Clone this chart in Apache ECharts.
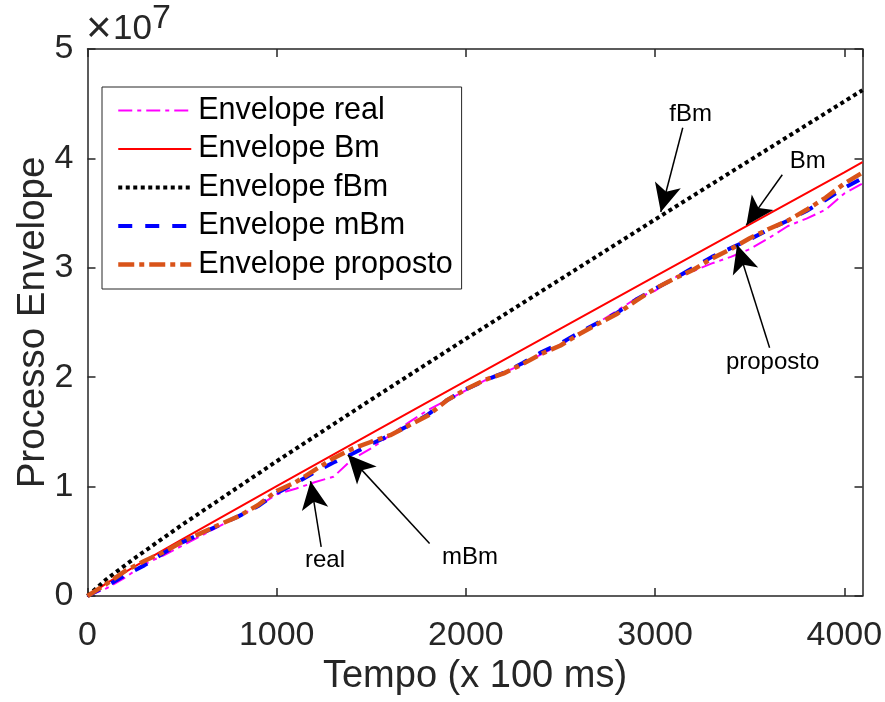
<!DOCTYPE html>
<html>
<head>
<meta charset="utf-8">
<script src="https://cdn.jsdelivr.net/npm/echarts@6/dist/echarts.min.js"></script>
<style>
  html, body { margin: 0; padding: 0; background: #fff; }
  #chart { width: 885px; height: 702px; }
</style>
</head>
<body>
<div id="chart"></div>
<script>
// Tempo (x 100 ms) sample points for the straight envelopes
const tempoRetas = [0, 100, 250, 500, 1000, 1500, 2000, 2500, 3000, 3500, 4000, 4096];
// Envelope Bm and Envelope fBm (x 10^7)
const envelopeBm  = [0, 0.116, 0.27, 0.517, 1.005, 1.487, 1.967, 2.445, 2.922, 3.398, 3.873, 3.965];
const envelopeFBm = [0, 0.153, 0.347, 0.651, 1.232, 1.796, 2.351, 2.896, 3.442, 3.982, 4.521, 4.624];

// Tempo (x 100 ms) sample points for the measured / modelled envelopes
const tempo = [0, 100, 200, 300, 400, 500, 600, 700, 800, 900,
  1000, 1100, 1200, 1300, 1400, 1500, 1600, 1700, 1800, 1900,
  2000, 2100, 2200, 2300, 2400, 2500, 2600, 2700, 2800, 2900,
  3000, 3100, 3200, 3300, 3400, 3500, 3600, 3700, 3800, 3900,
  4000, 4096];
// Envelope real (x 10^7)
const envelopeReal = [0, 0.07, 0.17, 0.29, 0.37, 0.46, 0.55, 0.64, 0.73, 0.82,
  0.93, 0.98, 1.04, 1.09, 1.25, 1.35, 1.47, 1.59, 1.70, 1.79,
  1.88, 1.97, 2.04, 2.12, 2.21, 2.30, 2.39, 2.50, 2.61, 2.72,
  2.79, 2.91, 2.97, 3.04, 3.10, 3.17, 3.27, 3.38, 3.45, 3.53,
  3.68, 3.77];
// Envelope mBm (x 10^7)
const envelopeMBm = [0, 0.09, 0.19, 0.28, 0.39, 0.49, 0.57, 0.65, 0.73, 0.82,
  0.94, 1.03, 1.13, 1.22, 1.30, 1.39, 1.47, 1.56, 1.66, 1.79,
  1.89, 1.97, 2.04, 2.13, 2.23, 2.31, 2.41, 2.50, 2.59, 2.71,
  2.81, 2.90, 3.00, 3.10, 3.18, 3.26, 3.35, 3.43, 3.52, 3.62,
  3.73, 3.82];
// Envelope proposto (x 10^7)
const envelopeProposto = [0, 0.11, 0.23, 0.32, 0.40, 0.495, 0.575, 0.655, 0.73, 0.83,
  0.96, 1.04, 1.15, 1.26, 1.345, 1.41, 1.47, 1.56, 1.65, 1.79,
  1.89, 1.975, 2.035, 2.12, 2.215, 2.29, 2.395, 2.49, 2.58, 2.70,
  2.81, 2.90, 2.98, 3.085, 3.17, 3.27, 3.355, 3.43, 3.53, 3.64,
  3.77, 3.87];

// Axis ticks
const xTicks = [0, 1000, 2000, 3000, 4000];
const yTicks = [0, 1, 2, 3, 4, 5];

// Callouts: label text, label anchor, arrow tail and arrow tip (data coordinates)
const calloutText = ['fBm', 'Bm', 'proposto', 'real', 'mBm'];
const calloutAt   = [[3188, 4.40], [3806, 3.97], [3621, 2.14], [1255, 0.33], [2021, 0.357]];
const calloutTail = [[3146, 4.28], [3672, 3.85], [3605, 2.27], [1235, 0.45], [1808, 0.48]];
const calloutTip  = [[3030, 3.51], [3482, 3.39], [3433, 3.21], [1179, 1.05], [1376, 1.29]];

const FONT = '"Liberation Sans", Arial, Helvetica, sans-serif';
const AXIS_COLOR = '#262626';

const zip = (xs, ys) => xs.map((x, i) => [x, ys[i]]);

const styles = {
  real:     { color: '#FF00FF', width: 2,   type: [14, 5, 4, 5] },
  bm:       { color: '#FF0000', width: 2,   type: 'solid' },
  fbm:      { color: '#000000', width: 4,   type: [4, 3.5] },
  mbm:      { color: '#0000FF', width: 4,   type: [14, 13] },
  proposto: { color: '#D95319', width: 4.5, type: [16, 5, 5, 5] }
};

function lineSeries(name, data, st) {
  return {
    type: 'line', name, data,
    symbol: 'none', showSymbol: false, smooth: false,
    color: st.color,
    lineStyle: { color: st.color, width: st.width, type: st.type },
    emphasis: { disabled: true },
    silent: true
  };
}

function legendItem(name, st) {
  return { name, lineStyle: { width: st.width }, itemStyle: { opacity: 0 } };
}

const chart = echarts.init(document.getElementById('chart'), null, { renderer: 'canvas' });

const xMin = 0, xMax = 4096, yMin = 0, yMax = 5;

const option = {
  animation: false,
  backgroundColor: '#ffffff',
  textStyle: { fontFamily: FONT },
  grid: { left: 87.5, right: 22.5, top: 49, bottom: 106, containLabel: false, outerBoundsMode: 'none' },
  xAxis: [{
    type: 'value', min: xMin, max: xMax, interval: 1000,
    name: 'Tempo (x 100 ms)', nameLocation: 'middle', nameGap: 62, nameMoveOverlap: false,
    nameTextStyle: { fontSize: 38, color: AXIS_COLOR, fontFamily: FONT },
    axisLine: { show: true, onZero: false, lineStyle: { color: AXIS_COLOR, width: 1.5 } },
    axisTick: { show: true, inside: true, length: 8, lineStyle: { color: AXIS_COLOR, width: 1.5 } },
    axisLabel: {
      fontSize: 34, color: AXIS_COLOR, margin: 23, fontFamily: FONT, showMaxLabel: false,
      formatter: v => (xTicks.indexOf(v) >= 0 ? String(v) : '')
    },
    splitLine: { show: false }
  }, {
    type: 'value', position: 'top', min: xMin, max: xMax, interval: 1000,
    axisLine: { show: true, onZero: false, lineStyle: { color: AXIS_COLOR, width: 1.5 } },
    axisTick: { show: true, inside: true, length: 8, lineStyle: { color: AXIS_COLOR, width: 1.5 } },
    axisLabel: { show: false },
    splitLine: { show: false }
  }],
  yAxis: [{
    type: 'value', min: yMin, max: yMax, interval: 1,
    name: 'Processo Envelope', nameLocation: 'middle', nameGap: 35, nameMoveOverlap: false,
    nameTextStyle: { fontSize: 38.5, color: AXIS_COLOR, fontFamily: FONT },
    axisLine: { show: true, onZero: false, lineStyle: { color: AXIS_COLOR, width: 1.5 } },
    axisTick: { show: true, inside: true, length: 8, lineStyle: { color: AXIS_COLOR, width: 1.5 } },
    axisLabel: {
      fontSize: 34, color: AXIS_COLOR, margin: 14, fontFamily: FONT,
      formatter: v => (yTicks.indexOf(v) >= 0 ? String(v) : '')
    },
    splitLine: { show: false }
  }, {
    type: 'value', position: 'right', min: yMin, max: yMax, interval: 1,
    axisLine: { show: true, onZero: false, lineStyle: { color: AXIS_COLOR, width: 1.5 } },
    axisTick: { show: true, inside: true, length: 8, lineStyle: { color: AXIS_COLOR, width: 1.5 } },
    axisLabel: { show: false },
    splitLine: { show: false }
  }],
  legend: {
    orient: 'vertical', left: 102, top: 87,
    padding: [8, 9, 9, 14],
    itemWidth: 73, itemHeight: 14, itemGap: 7.5,
    backgroundColor: '#ffffff', borderColor: AXIS_COLOR, borderWidth: 1, borderRadius: 0,
    itemStyle: { opacity: 0 },
    textStyle: { fontSize: 30.5, lineHeight: 30, color: '#000', fontFamily: FONT, padding: [0, 0, 0, 2] },
    selectedMode: false,
    data: [
      legendItem('Envelope real', styles.real),
      legendItem('Envelope Bm', styles.bm),
      legendItem('Envelope fBm', styles.fbm),
      legendItem('Envelope mBm', styles.mbm),
      legendItem('Envelope proposto', styles.proposto)
    ]
  },
  graphic: [
    { type: 'text', left: 86, top: 8, silent: true,
      style: { text: '\u00d7', fontSize: 44, fill: AXIS_COLOR, fontFamily: FONT } },
    { type: 'text', left: 113, top: 12, silent: true,
      style: { text: '10', fontSize: 35, fill: AXIS_COLOR, fontFamily: FONT } },
    { type: 'text', left: 152, top: 2, silent: true,
      style: { text: '7', fontSize: 34, fill: AXIS_COLOR, fontFamily: FONT } }
  ],
  series: [
    lineSeries('Envelope real', zip(tempo, envelopeReal), styles.real),
    lineSeries('Envelope Bm', zip(tempoRetas, envelopeBm), styles.bm),
    lineSeries('Envelope fBm', zip(tempoRetas, envelopeFBm), styles.fbm),
    lineSeries('Envelope mBm', zip(tempo, envelopeMBm), styles.mbm),
    lineSeries('Envelope proposto', zip(tempo, envelopeProposto), styles.proposto),
    {
      type: 'line', name: 'callouts', data: [], silent: true, z: 5,
      markLine: {
        silent: true, animation: false,
        symbol: ['none', 'arrow'], symbolSize: [20, 28],
        lineStyle: { color: '#000', width: 1.5, type: 'solid' },
        label: { show: false },
        emphasis: { disabled: true },
        data: calloutTail.map((t, i) => [{ coord: t }, { coord: calloutTip[i] }])
      },
      markPoint: {
        silent: true, animation: false,
        symbol: 'circle', symbolSize: 0,
        itemStyle: { color: 'transparent' },
        label: { show: true, position: 'inside', formatter: '{b}', fontSize: 24, color: '#000', fontFamily: FONT },
        data: calloutText.map((t, i) => ({ name: t, coord: calloutAt[i] }))
      }
    }
  ]
};

chart.setOption(option);
</script>
</body>
</html>
